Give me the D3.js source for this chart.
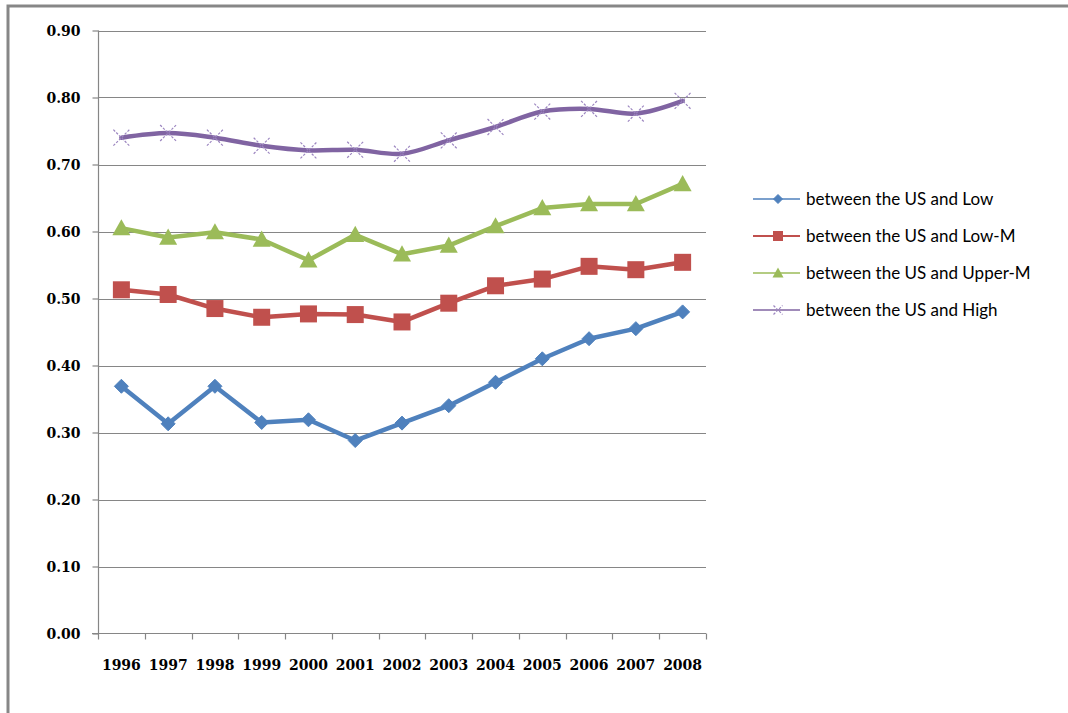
<!DOCTYPE html>
<html>
<head>
<meta charset="utf-8">
<script src="https://cdn.jsdelivr.net/npm/d3@7"></script>
<style>
  html, body { margin: 0; padding: 0; background: #fff; }
  svg { display: block; }
</style>
</head>
<body>
<svg id="chart" width="1068" height="713"></svg>
<script>
// Years on the category axis
const years = ["1996","1997","1998","1999","2000","2001","2002","2003","2004","2005","2006","2007","2008"];

// Series values
const usLow    = [0.369, 0.313, 0.369, 0.315, 0.319, 0.288, 0.314, 0.340, 0.375, 0.410, 0.440, 0.455, 0.480];
const usLowM   = [0.513, 0.506, 0.485, 0.472, 0.477, 0.476, 0.465, 0.493, 0.519, 0.529, 0.548, 0.543, 0.554];
const usUpperM = [0.605, 0.591, 0.599, 0.588, 0.557, 0.595, 0.566, 0.579, 0.608, 0.635, 0.641, 0.641, 0.671];
const usHigh   = [0.740, 0.747, 0.740, 0.728, 0.721, 0.722, 0.716, 0.736, 0.756, 0.779, 0.783, 0.776, 0.795];

const seriesNames = [
  "between the US and Low",
  "between the US and Low-M",
  "between the US and Upper-M",
  "between the US and High"
];

// Y-axis tick values
const yTicks = [0, 0.1, 0.2, 0.3, 0.4, 0.5, 0.6, 0.7, 0.8, 0.9];

const series = [
  { name: seriesNames[0], values: usLow,    color: "#4F81BD", marker: "diamond",  smooth: false },
  { name: seriesNames[1], values: usLowM,   color: "#C0504D", marker: "square",   smooth: false },
  { name: seriesNames[2], values: usUpperM, color: "#9BBB59", marker: "triangle", smooth: false },
  { name: seriesNames[3], values: usHigh,   color: "#8064A2", marker: "x",        smooth: true  }
];

const svg = d3.select("#chart");

// Outer chart frame (right and bottom edges run past the page)
svg.append("rect")
  .attr("x", 8).attr("y", 6)
  .attr("width", 1200).attr("height", 760)
  .attr("fill", "none")
  .attr("stroke", "#878787")
  .attr("stroke-width", 3);

const plot = { left: 98, right: 706, top: 30.5, bottom: 633.5 };

const x = d3.scaleBand().domain(years).range([plot.left, plot.right]).paddingInner(0).paddingOuter(0);
const y = d3.scaleLinear().domain([0, 0.9]).range([plot.bottom, plot.top]);
const cx = d => x(d) + x.bandwidth() / 2;

const axisColor = "#868686";
const tickFont = "'DejaVu Serif', 'Liberation Serif', serif";

// Horizontal gridlines
svg.append("g")
  .selectAll("line")
  .data(yTicks.filter(t => t > 0))
  .join("line")
  .attr("x1", plot.left).attr("x2", plot.right)
  .attr("y1", d => Math.round(y(d)) + 0.5)
  .attr("y2", d => Math.round(y(d)) + 0.5)
  .attr("stroke", axisColor)
  .attr("stroke-width", 1.2);

// Y axis
const yAxis = svg.append("g")
  .attr("transform", `translate(${plot.left + 0.5},0)`)
  .call(d3.axisLeft(y).tickValues(yTicks).tickFormat(d3.format(".2f")).tickSize(6).tickSizeOuter(0));
yAxis.select(".domain").attr("stroke", axisColor).attr("stroke-width", 1.2)
  .attr("d", `M0,${plot.top}V${plot.bottom + 6}`);
yAxis.selectAll(".tick line").attr("stroke", axisColor).attr("stroke-width", 1.2);
yAxis.selectAll(".tick text")
  .attr("x", -18)
  .attr("dy", "0.36em")
  .attr("fill", "#000")
  .style("font-family", tickFont)
  .style("font-weight", "bold")
  .style("font-size", "14px");

// X axis: line plus tick marks at category boundaries
const xAxisG = svg.append("g").attr("transform", `translate(0,${plot.bottom})`);
xAxisG.append("line")
  .attr("x1", plot.left - 6).attr("x2", plot.right)
  .attr("y1", 0).attr("y2", 0)
  .attr("stroke", axisColor).attr("stroke-width", 1.2);
xAxisG.selectAll("line.tk")
  .data(years.map(d => x(d) + x.bandwidth()))
  .join("line")
  .attr("class", "tk")
  .attr("x1", d => Math.round(d) + 0.5).attr("x2", d => Math.round(d) + 0.5)
  .attr("y1", 0).attr("y2", 6)
  .attr("stroke", axisColor).attr("stroke-width", 1.2);
xAxisG.selectAll("text")
  .data(years)
  .join("text")
  .attr("x", d => cx(d))
  .attr("y", 36)
  .attr("text-anchor", "middle")
  .attr("fill", "#000")
  .style("font-family", tickFont)
  .style("font-weight", "bold")
  .style("font-size", "14px")
  .text(d => d);

// Marker drawing
function drawMarker(g, type, color, s) {
  if (type === "diamond") {
    g.append("path")
      .attr("d", `M0,${-s}L${s},0L0,${s}L${-s},0Z`)
      .attr("fill", color).attr("stroke", color).attr("stroke-width", 1);
  } else if (type === "square") {
    g.append("rect")
      .attr("x", -s).attr("y", -s).attr("width", 2 * s).attr("height", 2 * s)
      .attr("fill", color);
  } else if (type === "triangle") {
    g.append("path")
      .attr("d", `M0,${-s}L${s},${s * 0.8}L${-s},${s * 0.8}Z`)
      .attr("fill", color);
  } else if (type === "x") {
    g.append("path")
      .attr("d", `M${-s},${-s}L${s},${s}M${-s},${s}L${s},${-s}`)
      .attr("fill", "none").attr("stroke", "#9C86C0").attr("stroke-width", 1.2)
      .attr("stroke-dasharray", "2.5,1.5");
  }
}

const markerSize = { diamond: 7, square: 8.5, triangle: 9, x: 8 };

// Series lines and markers
series.forEach(s => {
  const pts = s.values.map((v, i) => [cx(years[i]), y(v)]);
  const line = d3.line().curve(s.smooth ? d3.curveCatmullRom.alpha(0.5) : d3.curveLinear);
  const g = svg.append("g");
  g.append("path")
    .attr("d", line(pts))
    .attr("fill", "none")
    .attr("stroke", s.color)
    .attr("stroke-width", 4.5)
    .attr("stroke-linejoin", "round")
    .attr("stroke-linecap", "round");
  pts.forEach(p => {
    drawMarker(g.append("g").attr("transform", `translate(${p[0]},${p[1]})`), s.marker, s.color, markerSize[s.marker]);
  });
});

// Legend
const legend = svg.append("g");
const legendRows = [199, 236, 273, 310];
series.forEach((s, i) => {
  const row = legend.append("g").attr("transform", `translate(0,${legendRows[i]})`);
  row.append("line")
    .attr("x1", 753).attr("x2", 800).attr("y1", 0).attr("y2", 0)
    .attr("stroke", s.color).attr("stroke-width", s.marker === "square" ? 2.2 : 1.5);
  const mk = row.append("g").attr("transform", "translate(778,0)");
  const small = { diamond: 4.5, square: 5, triangle: 5.5, x: 4.5 };
  drawMarker(mk, s.marker, s.color, small[s.marker]);
  row.append("text")
    .attr("x", 806)
    .attr("y", 0)
    .attr("dy", "0.35em")
    .attr("fill", "#000")
    .style("font-family", "Lato, 'Open Sans', sans-serif")
    .style("font-size", "17px")
    .text(s.name);
});
</script>
</body>
</html>
